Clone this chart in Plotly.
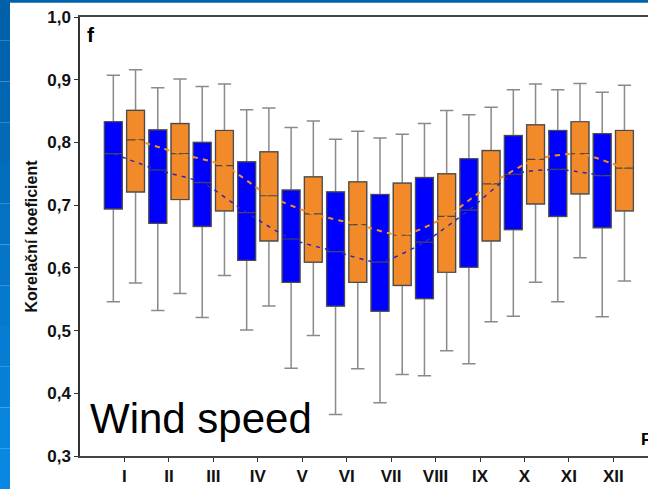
import plotly.graph_objects as go

# Měsíce
mesice = ["I", "II", "III", "IV", "V", "VI", "VII", "VIII", "IX", "X", "XI", "XII"]

# Modrá řada (min, Q1, medián, Q3, max)
modra_min = [0.546, 0.532, 0.521, 0.501, 0.440, 0.366, 0.385, 0.428, 0.447, 0.523, 0.546, 0.522]
modra_q1 = [0.694, 0.671, 0.666, 0.612, 0.577, 0.539, 0.531, 0.551, 0.601, 0.661, 0.682, 0.664]
modra_med = [0.782, 0.756, 0.736, 0.688, 0.646, 0.626, 0.609, 0.641, 0.692, 0.749, 0.757, 0.747]
modra_q3 = [0.833, 0.820, 0.800, 0.769, 0.724, 0.721, 0.717, 0.744, 0.774, 0.811, 0.819, 0.814]
modra_max = [0.907, 0.887, 0.889, 0.852, 0.824, 0.805, 0.807, 0.830, 0.844, 0.884, 0.884, 0.880]

# Oranžová řada
oranz_min = [0.576, 0.559, 0.588, 0.539, 0.492, 0.439, 0.430, 0.468, 0.514, 0.577, 0.616, 0.579]
oranz_q1 = [0.721, 0.709, 0.691, 0.643, 0.609, 0.577, 0.572, 0.593, 0.643, 0.702, 0.718, 0.691]
oranz_med = [0.804, 0.782, 0.763, 0.715, 0.686, 0.669, 0.652, 0.682, 0.734, 0.773, 0.782, 0.759]
oranz_q3 = [0.851, 0.830, 0.819, 0.785, 0.745, 0.737, 0.735, 0.750, 0.787, 0.828, 0.833, 0.819]
oranz_max = [0.916, 0.901, 0.893, 0.855, 0.834, 0.818, 0.813, 0.851, 0.856, 0.893, 0.894, 0.891]

MODRA = "#0000ff"
ORANZ = "#f38a2a"

W, H = 648, 489
ML, MR, MT, MB = 80, 0, 17, 33

pozice = list(range(1, len(mesice) + 1))
x_modra = [p - 0.25 for p in pozice]
x_oranz = [p + 0.25 for p in pozice]


# převod pixelů na souřadnice "paper"
def px_x(px):
    return (px - ML) / (W - ML - MR)


def px_y(py):
    return (H - MB - py) / (H - MT - MB)


fig = go.Figure()


def pridej_boxy(x, lo, q1, med, q3, hi, barva):
    # vousy šedě
    fig.add_trace(go.Box(
        x=x, q1=q1, median=med, q3=q3, lowerfence=lo, upperfence=hi,
        width=0.4, whiskerwidth=0.75, fillcolor=barva,
        line=dict(color="#8a8a8a", width=1.5), boxpoints=False,
        showlegend=False, hoverinfo="skip"))
    # krabice s tmavým obrysem
    fig.add_trace(go.Box(
        x=x, q1=q1, median=med, q3=q3, lowerfence=q1, upperfence=q3,
        width=0.4, whiskerwidth=0, fillcolor=barva,
        line=dict(color="#4a4a4a", width=1.2), boxpoints=False,
        showlegend=False))


pridej_boxy(x_modra, modra_min, modra_q1, modra_med, modra_q3, modra_max, MODRA)
pridej_boxy(x_oranz, oranz_min, oranz_q1, oranz_med, oranz_q3, oranz_max, ORANZ)

# čárkované spojnice mediánů
fig.add_trace(go.Scatter(
    x=x_modra, y=modra_med, mode="lines",
    line=dict(color="#2a2ab0", width=1.5, dash="4px,5px", shape="spline", smoothing=0.6),
    showlegend=False))
fig.add_trace(go.Scatter(
    x=x_oranz, y=oranz_med, mode="lines",
    line=dict(color="#f7901e", width=2, dash="5px,5px", shape="spline", smoothing=0.6),
    showlegend=False))

# modrý rám snímku (gradient po pásech)
tvary = []
pasy = 12
for i in range(pasy):
    t = i / (pasy - 1)
    r = int(0 + t * 8)
    g = int(96 + t * 40)
    b = int(168 + t * 58)
    tvary.append(dict(
        type="rect", xref="paper", yref="paper", layer="above",
        x0=px_x(-2), x1=px_x(10),
        y0=px_y(H * (i + 1) / pasy), y1=px_y(H * i / pasy),
        fillcolor=f"rgb({r},{g},{b})", line=dict(width=0)))
tvary.append(dict(
    type="rect", xref="paper", yref="paper", layer="above",
    x0=px_x(-2), x1=px_x(W + 2), y0=px_y(2.7), y1=px_y(-2),
    fillcolor="#0062a8", line=dict(width=0)))

fig.update_layout(
    width=W, height=H,
    margin=dict(l=ML, r=MR, t=MT, b=MB),
    paper_bgcolor="white", plot_bgcolor="white",
    separators=", ",
    boxmode="overlay",
    font=dict(family="Liberation Sans, Arial, sans-serif", color="#111111"),
    shapes=tvary,
    xaxis=dict(
        range=[0.0, 12.78], tickvals=pozice, ticktext=mesice,
        ticks="outside", ticklen=4, tickcolor="#333333",
        tickfont=dict(size=17, family="Liberation Sans, Arial", weight="bold"),
        showline=True, linecolor="#444444", linewidth=1.5, mirror=True,
        showgrid=False, zeroline=False),
    yaxis=dict(
        range=[0.3, 1.0], dtick=0.1, tickformat=".1f",
        ticks="outside", ticklen=4, tickcolor="#333333",
        tickfont=dict(size=17, family="Liberation Sans, Arial", weight="bold"),
        showline=True, linecolor="#333333", linewidth=1.5,
        showgrid=False, zeroline=False,
        title=dict(text="Korelační koeficient", standoff=6,
                   font=dict(size=16, family="Liberation Sans, Arial", weight="bold"))),
    annotations=[
        dict(text="Wind speed", xref="paper", yref="paper", x=px_x(88), y=px_y(418),
             xanchor="left", yanchor="middle", showarrow=False,
             font=dict(size=42, family="Liberation Sans, Arial", color="black")),
        dict(text="<b>f</b>", xref="paper", yref="paper", x=px_x(85), y=px_y(35),
             xanchor="left", yanchor="middle", showarrow=False,
             font=dict(size=21, family="Liberation Sans, Arial", color="black")),
        dict(text="<b>F</b>", xref="paper", yref="paper", x=px_x(639), y=px_y(439),
             xanchor="left", yanchor="middle", showarrow=False,
             font=dict(size=17, family="Liberation Sans, Arial", color="black")),
    ],
)

fig.write_html("out.html", config={"displayModeBar": False},
               post_script="document.body.style.margin='0';")
